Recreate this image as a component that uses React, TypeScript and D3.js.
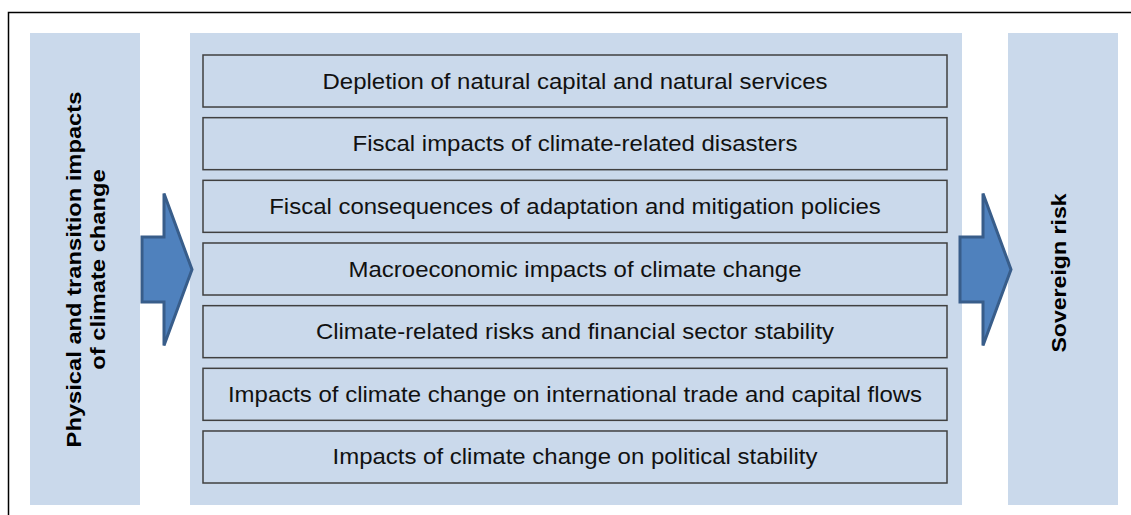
import * as d3 from 'd3';

// content of the diagram
const leftLabel = ['Physical and transition impacts', 'of climate change'];
const rightLabel = ['Sovereign risk'];
const channels = [
  'Depletion of natural capital and natural services',
  'Fiscal impacts of climate-related disasters',
  'Fiscal consequences of adaptation and mitigation policies',
  'Macroeconomic impacts of climate change',
  'Climate-related risks and financial sector stability',
  'Impacts of climate change on international trade and capital flows',
  'Impacts of climate change on political stability',
];

const width = 1131;
const height = 515;
const panelTop = 33;
const panelBottom = 505;
const font = '"Liberation Sans", Arial, sans-serif';
const panelFill = '#cad9eb';

// arrow outline: shaft start, head base, tip, and the vertical extents
const arrowPath = (x0: number, x1: number, x2: number) => {
  const yc = 269.5;
  const shaft = 32.5;
  const head = 76;
  return d3.line()([
    [x0, yc - shaft],
    [x1, yc - shaft],
    [x1, yc - head],
    [x2, yc],
    [x1, yc + head],
    [x1, yc + shaft],
    [x0, yc + shaft],
  ]) + 'Z';
};

const App = () => {
  const y = d3
    .scaleBand<string>()
    .domain(channels)
    .range([55, 483])
    .paddingInner(0.17)
    .paddingOuter(0);

  const boxLeft = 203;
  const boxRight = 947;
  const boxMid = (boxLeft + boxRight) / 2;

  return (
    <svg
      width={width}
      height={height}
      style={{ position: 'absolute', left: 0, top: 0 }}
      fontFamily={font}
    >
      <rect width={width} height={height} fill='white' />
      {/* outer frame, runs past the picture on the right and bottom */}
      <rect x={8.5} y={12.5} width={1140} height={520} fill='none' stroke='#000' strokeWidth={1.5} />

      {/* the three panels */}
      <rect x={30} y={panelTop} width={110} height={panelBottom - panelTop} fill={panelFill} />
      <rect x={190} y={panelTop} width={772} height={panelBottom - panelTop} fill={panelFill} />
      <rect x={1008} y={panelTop} width={110} height={panelBottom - panelTop} fill={panelFill} />

      {/* left label, read bottom to top (text is a bit stretched in the original) */}
      <g transform={`translate(86,269.5) rotate(-90) scale(1.13,1)`}>
        {leftLabel.map((t, i) => (
          <text
            key={t}
            x={0}
            y={(i - (leftLabel.length - 1) / 2) * 24 + 7}
            textAnchor='middle'
            fontSize={21}
            fontWeight='bold'
            fill='#000'
          >
            {t}
          </text>
        ))}
      </g>

      <g transform={`translate(1059,273) rotate(-90) scale(1.1,1)`}>
        {rightLabel.map((t) => (
          <text key={t} x={0} y={7} textAnchor='middle' fontSize={21} fontWeight='bold' fill='#000'>
            {t}
          </text>
        ))}
      </g>

      {/* channel boxes */}
      {channels.map((c) => (
        <g key={c}>
          <rect
            x={boxLeft}
            y={y(c)}
            width={boxRight - boxLeft}
            height={y.bandwidth()}
            fill={panelFill}
            stroke='#404040'
            strokeWidth={1.5}
          />
          <text
            transform={`translate(${boxMid},${(y(c) as number) + y.bandwidth() / 2 + 7.5}) scale(1.09,1)`}
            textAnchor='middle'
            fontSize={22}
            fill='#111'
          >
            {c}
          </text>
        </g>
      ))}

      {/* arrows */}
      <path d={arrowPath(142, 164, 192)} fill='#4f81bd' stroke='#385d8a' strokeWidth={3} strokeLinejoin='miter' />
      <path d={arrowPath(960, 983, 1011)} fill='#4f81bd' stroke='#385d8a' strokeWidth={3} strokeLinejoin='miter' />
    </svg>
  );
};

export default App;
